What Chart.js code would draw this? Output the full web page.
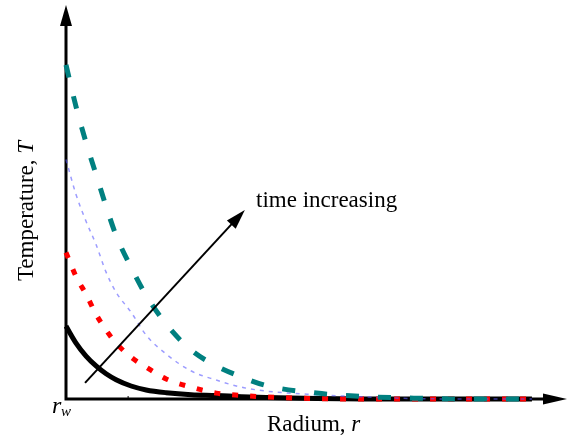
<!DOCTYPE html>
<html>
<head>
<meta charset="utf-8">
<script src="https://cdn.jsdelivr.net/npm/chart.js@4"></script>
<style>
  body { margin: 0; background: #fff; }
  canvas { display: block; }
</style>
</head>
<body>
<canvas id="grafik" width="570" height="438"></canvas>
<script>
// radius (r - r_w), arbitrary units
var radius = [0, 0.2, 0.4, 0.6, 0.8, 1.0, 1.3, 1.6, 2.0, 2.5, 3.0, 3.5, 4.0, 5.0, 6.0, 7.0, 8.0, 9.3];
// temperature profiles, earliest to latest
var tempT1 = [1.85, 1.42, 1.09, 0.84, 0.64, 0.49, 0.33, 0.23, 0.16, 0.11, 0.09, 0.06, 0.04, 0.01, 0, 0, 0, 0];
var tempT2 = [3.72, 3.11, 2.66, 2.15, 1.75, 1.42, 1.06, 0.81, 0.51, 0.30, 0.15, 0.09, 0.05, 0.01, 0, 0, 0, 0];
var tempT3 = [6.08, 5.19, 4.51, 3.92, 3.22, 2.71, 2.20, 1.62, 1.14, 0.71, 0.48, 0.30, 0.20, 0.11, 0.05, 0.01, 0, 0];
var tempT4 = [8.48, 7.42, 6.51, 5.70, 4.89, 4.15, 3.34, 2.63, 1.90, 1.24, 0.84, 0.56, 0.34, 0.15, 0.06, 0.02, 0, 0];

var serif = '"Liberation Serif", "DejaVu Serif", serif';

function pts(vals) {
    return radius.map(function (r, i) { return { x: r, y: vals[i] }; });
}

// teks biasa + bagian miring (italic) di belakangnya
function labelMix(c, plain, italic, x, y, size) {
    c.font = size + 'px ' + serif;
    c.fillText(plain, x, y);
    var w = c.measureText(plain).width;
    c.font = 'italic ' + size + 'px ' + serif;
    c.fillText(italic, x + w, y);
}

function lebarMix(c, plain, italic, size) {
    c.font = size + 'px ' + serif;
    var w = c.measureText(plain).width;
    c.font = 'italic ' + size + 'px ' + serif;
    return w + c.measureText(italic).width;
}

// axes with arrowheads, labels and the "time increasing" arrow
var sketsa = {
    id: 'sketsa',
    beforeDatasetsDraw: function (chart) {
        var c = chart.ctx, a = chart.chartArea;
        c.save();
        c.strokeStyle = '#000';
        c.fillStyle = '#000';
        c.lineWidth = 3;
        c.beginPath();
        c.moveTo(a.left, a.bottom);
        c.lineTo(a.left, a.top + 14);
        c.moveTo(a.left - 1.5, a.bottom);
        c.lineTo(a.right - 16, a.bottom);
        c.stroke();
        // y arrowhead
        c.beginPath();
        c.moveTo(a.left, a.top);
        c.lineTo(a.left - 6, a.top + 21);
        c.lineTo(a.left + 6, a.top + 21);
        c.closePath();
        c.fill();
        // x arrowhead
        c.beginPath();
        c.moveTo(a.right, a.bottom);
        c.lineTo(a.right - 24, a.bottom - 5.5);
        c.lineTo(a.right - 24, a.bottom + 5.5);
        c.closePath();
        c.fill();
        // small tick
        var tx = chart.scales.x.getPixelForValue(1.24);
        c.lineWidth = 1;
        c.beginPath();
        c.moveTo(tx, a.bottom);
        c.lineTo(tx, a.bottom - 3);
        c.stroke();
        c.restore();
    },
    afterDatasetsDraw: function (chart) {
        var c = chart.ctx;
        var sx = chart.scales.x, sy = chart.scales.y;
        c.save();
        // time arrow
        var x0 = sx.getPixelForValue(0.38), y0 = sy.getPixelForValue(0.41);
        var x1 = sx.getPixelForValue(3.57), y1 = sy.getPixelForValue(4.80);
        var ang = Math.atan2(y1 - y0, x1 - x0);
        var cs = Math.cos(ang), sn = Math.sin(ang);
        c.strokeStyle = '#000';
        c.fillStyle = '#000';
        c.lineWidth = 2;
        c.beginPath();
        c.moveTo(x0, y0);
        c.lineTo(x1 - 12 * cs, y1 - 12 * sn);
        c.stroke();
        c.beginPath();
        c.moveTo(x1, y1);
        c.lineTo(x1 - 20 * cs + 6 * sn, y1 - 20 * sn - 6 * cs);
        c.lineTo(x1 - 20 * cs - 6 * sn, y1 - 20 * sn + 6 * cs);
        c.closePath();
        c.fill();

        c.textBaseline = 'alphabetic';
        c.textAlign = 'left';
        c.font = '23px ' + serif;
        c.fillText('time increasing', 256, 207);

        // x label
        labelMix(c, 'Radium, ', 'r', 267, 431, 23);
        // r_w
        c.font = 'italic 24px ' + serif;
        c.fillText('r', 52, 413);
        c.font = 'italic 15px ' + serif;
        c.fillText('w', 61, 416);

        // y label
        c.translate(33, 211);
        c.rotate(-Math.PI / 2);
        var w = lebarMix(c, 'Temperature, ', 'T', 23);
        labelMix(c, 'Temperature, ', 'T', -w / 2, 0, 23);
        c.restore();
    }
};

var ctx = document.getElementById('grafik').getContext('2d');
var grafik = new Chart(ctx, {
    type: 'line',
    data: {
        datasets: [{
            label: 't4',
            data: pts(tempT4),
            borderColor: '#008080',
            borderWidth: 5,
            borderDash: [13, 19],
            borderCapStyle: 'butt'
        }, {
            label: 't3',
            data: pts(tempT3),
            borderColor: 'rgba(90, 90, 255, 0.6)',
            borderWidth: 1.5,
            borderDash: [4, 5]
        }, {
            label: 't2',
            data: pts(tempT2),
            borderColor: '#ff0000',
            borderWidth: 5,
            borderDash: [6, 12],
            borderCapStyle: 'butt'
        }, {
            label: 't1',
            data: pts(tempT1),
            borderColor: '#000000',
            borderWidth: 5
        }]
    },
    options: {
        responsive: false,
        animation: false,
        clip: false,
        layout: { padding: { left: 66, right: 3, top: 5, bottom: 39 } },
        elements: {
            point: { radius: 0 },
            line: { cubicInterpolationMode: 'monotone', fill: false }
        },
        scales: {
            x: { type: 'linear', min: 0, max: 10, display: false },
            y: { type: 'linear', min: 0, max: 10, display: false }
        },
        plugins: {
            legend: { display: false },
            tooltip: { enabled: false }
        }
    },
    plugins: [sketsa]
});
</script>
</body>
</html>
